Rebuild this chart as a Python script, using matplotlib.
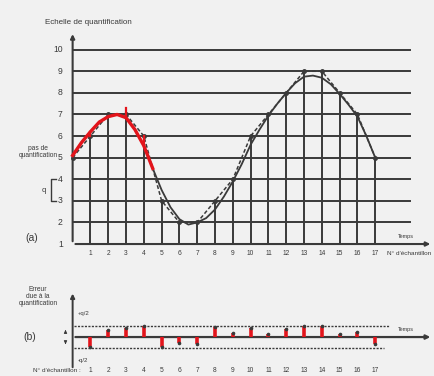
import numpy as np
import matplotlib.pyplot as plt

# --- data ---
samples = list(range(0, 18))
quantized = [5, 6, 7, 7, 6, 3, 2, 2, 3, 4, 6, 7, 8, 9, 9, 8, 7, 5]

# analog signal read at half-sample steps
signal_t = [0, 0.5, 1, 1.5, 2, 2.5, 3, 3.5, 4, 4.5, 5, 5.5, 6, 6.5, 7, 7.5, 8, 8.5,
            9, 9.5, 10, 10.5, 11, 11.5, 12, 12.5, 13, 13.5, 14, 14.5, 15, 15.5, 16, 16.5, 17]
signal_v = [5.1, 5.7, 6.2, 6.65, 6.9, 7.0, 6.85, 6.3, 5.55, 4.5, 3.5, 2.7, 2.15, 1.9, 2.0, 2.2, 2.6, 3.2,
            3.9, 4.7, 5.6, 6.3, 6.95, 7.5, 8.0, 8.45, 8.75, 8.8, 8.7, 8.4, 7.95, 7.45, 6.9, 6.0, 5.0]

# quantification error (in units of q), samples 1..17
err_samples = list(range(1, 18))
errors = [-0.45, 0.3, 0.4, 0.5, -0.45, -0.25, -0.3, 0.45, 0.2, 0.4, 0.15, 0.35, 0.5, 0.5, 0.15, 0.25, -0.3]

levels = list(range(1, 11))

ink = "#3a3a3a"
red = "#e3141b"
bg = "#f1f1f1"

fig = plt.figure(figsize=(4.34, 3.76), dpi=100, facecolor=bg)
plt.rcParams['font.family'] = ['Liberation Sans', 'DejaVu Sans']

# === panel (a) ===
ax = fig.add_axes([0, 116 / 376, 1, 260 / 376])
ax.set_xlim(-4.08, 20.30)
ax.set_ylim(0.26, 12.30)
ax.axis("off")

for lv in levels[1:]:
    ax.plot([0, 18.95], [lv, lv], color=ink, lw=1.4, zorder=1)
# axes with arrows
ax.annotate("", xy=(20.25, 1), xytext=(0, 1),
            arrowprops=dict(arrowstyle="-|>", color=ink, lw=1.5, mutation_scale=6))
ax.annotate("", xy=(0, 10.85), xytext=(0, 1),
            arrowprops=dict(arrowstyle="-|>", color=ink, lw=1.5, mutation_scale=6))

# stems up to quantized values
for s, q in zip(samples[1:], quantized[1:]):
    ax.plot([s, s], [1, q], color=ink, lw=1.4, zorder=1)

ax.plot(signal_t, signal_v, color=ink, lw=1.3, zorder=3)
ax.plot(samples, quantized, color=ink, lw=1.1, ls=(0, (2.5, 1.5)), zorder=3)
ax.plot(samples, quantized, "o", color=ink, ms=2.5, zorder=4)

# red overlay on the first part of the signal
red_t = [t for t in signal_t if t <= 4.5]
ax.plot(red_t, signal_v[:len(red_t)], color=red, lw=2.4, zorder=5)
for s in [1, 3, 4]:
    ax.plot([s, s], [signal_v[2 * s], quantized[s] + (0.3 if s == 3 else 0)], color=red, lw=1.6, zorder=5)

for lv in levels:
    ax.text(-0.55, lv, str(lv), ha="right", va="center", fontsize=6.2, color=ink)
for s in samples[1:]:
    ax.text(s, 0.58, str(s), ha="center", va="center", fontsize=4.8, color=ink)

ax.text(-1.55, 11.28, "Echelle de quantification", ha="left", va="center", fontsize=5.8, color=ink)
ax.text(-1.94, 5.25, "pas de\nquantification", ha="center", va="center", fontsize=4.8,
        color=ink, linespacing=0.9)
ax.plot([-0.95, -1.2, -1.2, -0.95], [4, 4, 3, 3], color=ink, lw=1.0)
ax.text(-1.6, 3.5, "q", ha="center", va="center", fontsize=5.5, color=ink)
ax.text(-2.28, 1.3, "(a)", ha="center", va="center", fontsize=7.5, color=ink)
ax.text(18.7, 1.37, "Temps", ha="center", va="center", fontsize=4, color=ink)
ax.text(18.9, 0.58, "N° d'échantillon", ha="center", va="center", fontsize=4.6, color=ink)

# === panel (b) ===
bx = fig.add_axes([0, 0, 1, 116 / 376])
bx.set_xlim(-4.08, 20.30)
bx.set_ylim(-1.77, 3.5)
bx.axis("off")

bx.annotate("", xy=(20.25, 0), xytext=(0, 0),
            arrowprops=dict(arrowstyle="-|>", color=ink, lw=1.6, mutation_scale=6))
bx.annotate("", xy=(0, 2.1), xytext=(0, -1.5),
            arrowprops=dict(arrowstyle="-|>", color=ink, lw=1.4, mutation_scale=6))
bx.plot([0.1, 17.8], [0.5, 0.5], color=ink, lw=1.0, ls=(0, (1.5, 1)))
bx.plot([0.1, 17.5], [-0.5, -0.5], color=ink, lw=1.0, ls=(0, (1.5, 1)))

for s, e in zip(err_samples, errors):
    bx.plot([s, s], [0, e], color=red, lw=2.6, solid_capstyle="butt", zorder=5)
    bx.plot([s], [e], marker="o", color=ink, ms=1.6, zorder=6)

bx.text(0.3, 1.09, "+q/2", ha="left", va="center", fontsize=4.3, color=ink)
bx.text(0.3, -1.05, "-q/2", ha="left", va="center", fontsize=4.3, color=ink)
bx.annotate("", xy=(-0.4, 0.45), xytext=(-0.4, 0.1),
            arrowprops=dict(arrowstyle="-|>", color=ink, lw=0.8, mutation_scale=4))
bx.annotate("", xy=(-0.4, -0.45), xytext=(-0.4, -0.1),
            arrowprops=dict(arrowstyle="-|>", color=ink, lw=0.8, mutation_scale=4))
bx.text(-1.94, 1.85, "Erreur\ndue à la\nquantification", ha="center", va="center",
        fontsize=4.8, color=ink, linespacing=0.95)
bx.text(-2.4, 0.0, "(b)", ha="center", va="center", fontsize=7.5, color=ink)
bx.text(0.45, -1.5, "N° d'échantillon :", ha="right", va="center", fontsize=4.6, color=ink)
for s in err_samples:
    bx.text(s, -1.5, str(s), ha="center", va="center", fontsize=4.8, color=ink)
bx.text(18.7, 0.36, "Temps", ha="center", va="center", fontsize=4, color=ink)

fig.savefig("out.png", dpi=100, facecolor=bg)
